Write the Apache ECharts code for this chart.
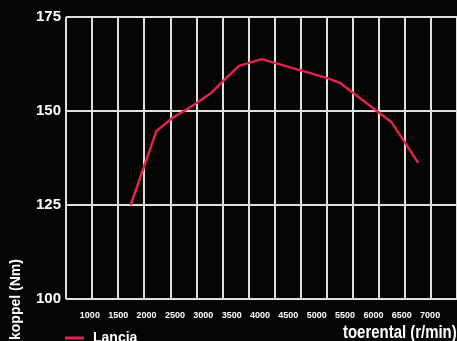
<!DOCTYPE html>
<html>
<head>
<meta charset="utf-8">
<script src="https://cdn.jsdelivr.net/npm/echarts@6/dist/echarts.min.js"></script>
<style>
html,body{margin:0;padding:0;background:#050505;}
#c{width:457px;height:341px;}
</style>
</head>
<body>
<div id="c"></div>
<script>
// Data
const seriesName = 'Lancia';
const rpm = [1720, 2175, 2450, 2750, 3140, 3330, 3630, 4030, 5175, 5420, 6315, 6790];
const torque = [125, 144.7, 148.1, 150.8, 154.8, 157.7, 162, 163.8, 158.8, 157.4, 147.1, 136.2];
const xTickLabels = [1000, 1500, 2000, 2500, 3000, 3500, 4000, 4500, 5000, 5500, 6000, 6500, 7000];
const yTicks = [100, 125, 150, 175];
const xTitle = 'toerental (r/min)';
const yTitle = 'koppel (Nm)';

const FONT = '"Liberation Sans", Arial, sans-serif';
const GRIDC = '#dedede';

const chart = echarts.init(document.getElementById('c'), null, {renderer: 'canvas'});
chart.setOption({
  backgroundColor: '#050505',
  animation: false,
  grid: {left: 66, top: 17, width: 393, height: 282, containLabel: false},
  legend: {
    data: [seriesName],
    left: 60, top: 326,
    icon: 'rect', itemWidth: 19, itemHeight: 3,
    textStyle: {color: '#ffffff', fontFamily: FONT, fontWeight: 'bold', fontSize: 14, padding: [0,0,0,4]}
  },
  xAxis: [
    {
      type: 'value', min: 579, max: 7474,
      axisLine: {show: false}, axisTick: {show: false}, splitLine: {show: false},
      axisLabel: {
        customValues: xTickLabels,
        formatter: v => String(v),
        color: '#ffffff', fontFamily: FONT, fontWeight: 'bold', fontSize: 9, margin: 12
      }
    },
    {
      type: 'value', position: 'top', min: 0, max: 15, interval: 1,
      axisLine: {show: false}, axisTick: {show: false}, axisLabel: {show: false},
      splitLine: {show: true, lineStyle: {color: GRIDC, width: 2}}
    }
  ],
  yAxis: {
    type: 'value', min: yTicks[0], max: yTicks[yTicks.length - 1], interval: 25,
    axisLine: {show: false}, axisTick: {show: false},
    splitLine: {show: true, lineStyle: {color: GRIDC, width: 2}},
    axisLabel: {color: '#ffffff', fontFamily: FONT, fontWeight: 'bold', fontSize: 15, margin: 5, padding: [5,0,0,0]}
  },
  graphic: [
    {
      type: 'text', x: 343, y: 324, scaleX: 0.83,
      style: {text: xTitle, fill: '#ffffff', font: 'bold 18px ' + FONT}
    },
    {
      type: 'text', x: 9, y: 340, rotation: Math.PI / 2,
      style: {text: yTitle, fill: '#ffffff', font: 'bold 14px ' + FONT, align: 'left', verticalAlign: 'top'}
    }
  ],
  series: [{
    name: seriesName, type: 'line', xAxisIndex: 0,
    data: rpm.map((r, i) => [r, torque[i]]),
    showSymbol: false, symbol: 'none',
    lineStyle: {color: '#e3224e', width: 2.5},
    itemStyle: {color: '#e3224e'}
  }]
});
</script>
</body>
</html>
